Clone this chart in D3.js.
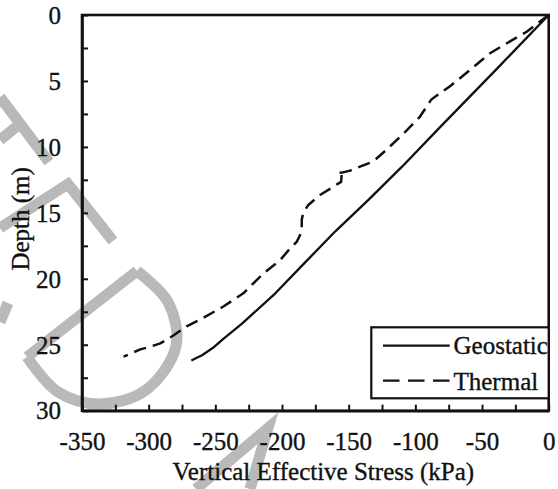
<!DOCTYPE html>
<html>
<head>
<meta charset="utf-8">
<script src="https://cdn.jsdelivr.net/npm/d3@7"></script>
<style>
  html, body { margin: 0; padding: 0; background: #fff; }
  svg { display: block; font-family: "Liberation Serif", "DejaVu Serif", serif; }
  text { font-family: "Liberation Serif", "DejaVu Serif", serif !important; fill: #111; stroke: #111; stroke-width: 0.35px; }
</style>
</head>
<body>
<svg id="chart" width="558" height="489"></svg>
<script>
// ---- data ----
const geostaticStress = [0, -40, -80, -110, -135, -160, -185, -205, -230, -244, -252, -260, -268];
const geostaticDepth  = [0, 4.2, 8.35, 11.5, 14.0, 16.4, 19.0, 21.1, 23.4, 24.55, 25.25, 25.8, 26.2];

const thermalStress = [0, -8, -16.5, -29, -44, -59, -74, -88, -96.5, -109, -121.5, -131.5, -141.5, -149, -155,
  -158.2, -155.2, -155.7, -158.2, -162.7, -171.5, -180.3, -184, -185.2, -185.2, -186.5, -189, -194, -201.5,
  -214, -229, -244, -261.5, -271.5, -281.5, -291.3, -298.8, -306.3, -318.8];
const thermalDepth = [0, 0.6, 1.27, 2.0, 2.9, 4.17, 5.4, 6.4, 7.7, 9.0, 10.2, 11.1, 11.5, 11.8, 11.95,
  11.97, 12.05, 12.65, 12.8, 13.1, 13.65, 14.4, 15.0, 15.5, 16.2, 16.7, 17.2, 17.7, 18.6,
  19.6, 21.1, 22.1, 23.1, 23.6, 24.3, 24.9, 25.15, 25.35, 25.9];

const xTickValues = [-350, -325, -300, -275, -250, -225, -200, -175, -150, -125, -100, -75, -50, -25, 0];
const xTickLabels = [-350, -300, -250, -200, -150, -100, -50, 0];
const yTickValues = [0, 2.5, 5, 7.5, 10, 12.5, 15, 17.5, 20, 22.5, 25, 27.5, 30];
const yTickLabels = [0, 5, 10, 15, 20, 25, 30];
const seriesNames = ["Geostatic", "Thermal"];
const xTitle = "Vertical Effective Stress (kPa)";
const yTitle = "Depth (m)";

// background watermark strokes (decorative, in pixel space)
const watermarkStrokes = [
  [[0, 97], [49, 162]],
  [[0, 140], [16, 127]],
  [[0, 228], [68, 184], [113, 241]],
  [[137, 271], [27, 357]],
  [[27, 357], [58, 392], [100, 404], [146, 390], [176, 346], [168, 302], [137, 271]],
  [[0, 322], [8, 303]],
  [[196, 489], [268, 428], [250, 489]]
];

// ---- layout ----
const L = 82, R = 548.7, T = 15, B = 410.7;
const FONT = '"Liberation Serif", "DejaVu Serif", serif';
const FS = 25;
const svg = d3.select("#chart");

const x = d3.scaleLinear().domain([-350, 0]).range([L, R]);
const y = d3.scaleLinear().domain([0, 30]).range([T, B]);

// watermark
const wmLine = d3.line().curve(d3.curveCatmullRom.alpha(0.5));
const wm = svg.append("g");
watermarkStrokes.forEach((pts, i) => {
  wm.append("path")
    .attr("d", (i === 4 ? wmLine : d3.line())(pts))
    .attr("fill", "none")
    .attr("stroke", "#b9b9b9")
    .attr("stroke-width", 11)
    .attr("stroke-linejoin", "miter");
});

// plot frame
svg.append("rect")
  .attr("x", L).attr("y", T).attr("width", R - L).attr("height", B - T)
  .attr("fill", "none").attr("stroke", "#111").attr("stroke-width", 2.6);

// x axis (ticks inward)
const xAxis = d3.axisBottom(x).tickValues(xTickValues).tickSize(-6).tickSizeOuter(0)
  .tickFormat(d => xTickLabels.includes(d) ? d : "");
const gx = svg.append("g").attr("transform", `translate(0,${B})`).call(xAxis)
  .attr("font-family", FONT).attr("font-size", FS);
gx.select(".domain").attr("stroke", "#111").attr("stroke-width", 2.6);
gx.selectAll(".tick line").attr("stroke", "#111").attr("stroke-width", 2);
gx.selectAll(".tick text")
  .attr("y", 39.5).attr("dy", 0).attr("fill", "#111");

// y axis (ticks inward)
const yAxis = d3.axisLeft(y).tickValues(yTickValues).tickSize(-6).tickSizeOuter(0)
  .tickFormat(d => yTickLabels.includes(d) ? d : "");
const gy = svg.append("g").attr("transform", `translate(${L},0)`).call(yAxis)
  .attr("font-family", FONT).attr("font-size", FS);
gy.select(".domain").attr("stroke", "#111").attr("stroke-width", 2.6);
gy.selectAll(".tick line").attr("stroke", "#111").attr("stroke-width", 2);
gy.selectAll(".tick text")
  .attr("x", -21).attr("dy", "0.33em").attr("fill", "#111");

// titles
svg.append("text")
  .attr("x", (L + R) / 2 + 8).attr("y", 480)
  .attr("text-anchor", "middle").attr("font-size", FS)
  .text(xTitle);
svg.append("text")
  .attr("transform", `translate(29,${(T + B) / 2 + 6}) rotate(-90)`)
  .attr("text-anchor", "middle").attr("font-size", FS)
  .text(yTitle);

// data lines
const line = d3.line().x(d => x(d[0])).y(d => y(d[1]));
const geoData = geostaticStress.map((v, i) => [v, geostaticDepth[i]]);
const thData = thermalStress.map((v, i) => [v, thermalDepth[i]]);

svg.append("path").datum(geoData)
  .attr("d", line).attr("fill", "none").attr("stroke", "#111")
  .attr("stroke-width", 2.3).attr("stroke-linejoin", "round");
svg.append("path").datum(thData)
  .attr("d", line).attr("fill", "none").attr("stroke", "#111")
  .attr("stroke-width", 2.5).attr("stroke-dasharray", "12.5,7").attr("stroke-linejoin", "round");

// legend
const lg = svg.append("g");
lg.append("rect")
  .attr("x", 371.3).attr("y", 327.3).attr("width", 548.7 - 371.3).attr("height", 71)
  .attr("fill", "#fff").attr("stroke", "#111").attr("stroke-width", 2.2);
const legendRows = [
  { name: seriesNames[0], dash: null, yy: 345.7, ty: 354 },
  { name: seriesNames[1], dash: "16.5,8.5", yy: 380.7, ty: 389.5 }
];
legendRows.forEach(r => {
  lg.append("line")
    .attr("x1", 383).attr("x2", 449.7).attr("y1", r.yy).attr("y2", r.yy)
    .attr("stroke", "#111").attr("stroke-width", 2.2)
    .attr("stroke-dasharray", r.dash);
  lg.append("text")
    .attr("x", 453.5).attr("y", r.ty).attr("font-size", FS).text(r.name);
});
</script>
</body>
</html>
